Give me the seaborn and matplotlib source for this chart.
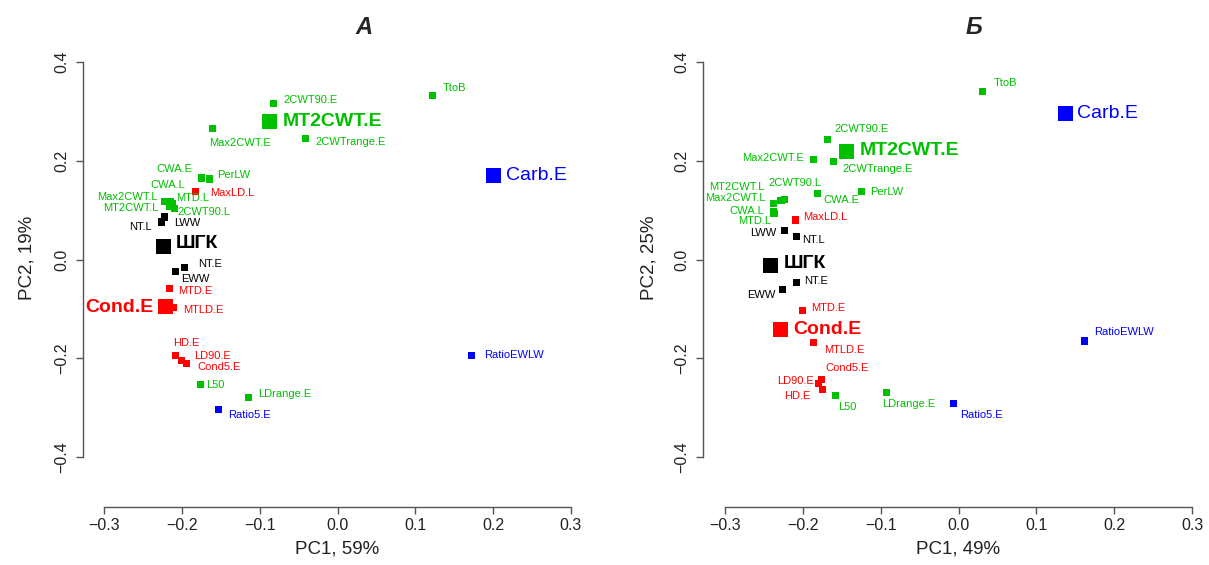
import matplotlib
matplotlib.use("Agg")
import matplotlib.pyplot as plt
import numpy as np
import pandas as pd
import seaborn as sns

# ---------------- data ----------------
variables = ["TtoB", "2CWT90.E", "MT2CWT.E", "Max2CWT.E", "2CWTrange.E", "Carb.E",
             "CWA.E", "PerLW", "MaxLD.L", "CWA.L", "Max2CWT.L", "MTD.L", "MT2CWT.L",
             "2CWT90.L", "LWW", "NT.L", "ШГК", "NT.E", "EWW", "MTD.E", "Cond.E",
             "MTLD.E", "HD.E", "LD90.E", "Cond5.E", "L50", "LDrange.E", "Ratio5.E",
             "RatioEWLW"]
groups = ["green", "green", "green", "green", "green", "blue",
          "green", "green", "red", "green", "green", "green", "green",
          "green", "black", "black", "black", "black", "black", "red", "red",
          "red", "red", "red", "red", "green", "green", "blue",
          "blue"]
emphasis = ["small", "small", "big", "small", "small", "big",
            "small", "small", "small", "small", "small", "small", "small",
            "small", "small", "small", "big", "small", "small", "small", "big",
            "small", "small", "small", "small", "small", "small", "small",
            "small"]

pc1_A = [0.122, -0.082, -0.087, -0.161, -0.041, 0.200,
         -0.175, -0.165, -0.183, -0.215, -0.222, -0.212, -0.216,
         -0.210, -0.222, -0.226, -0.224, -0.197, -0.208, -0.216, -0.221,
         -0.211, -0.208, -0.201, -0.194, -0.176, -0.114, -0.153,
         0.172]
pc2_A = [0.333, 0.316, 0.280, 0.265, 0.245, 0.171,
         0.165, 0.163, 0.137, 0.117, 0.118, 0.113, 0.108,
         0.104, 0.086, 0.076, 0.027, -0.016, -0.024, -0.059, -0.096,
         -0.098, -0.194, -0.204, -0.210, -0.253, -0.280, -0.304,
         -0.194]

pc1_B = [0.031, -0.168, -0.144, -0.186, -0.161, 0.138,
         -0.181, -0.125, -0.210, -0.238, -0.238, -0.237, -0.228,
         -0.224, -0.224, -0.208, -0.242, -0.208, -0.226, -0.201, -0.229,
         -0.186, -0.175, -0.180, -0.176, -0.158, -0.093, -0.006,
         0.162]
pc2_B = [0.341, 0.243, 0.218, 0.202, 0.198, 0.296,
         0.133, 0.137, 0.080, 0.098, 0.114, 0.094, 0.120,
         0.122, 0.059, 0.047, -0.012, -0.047, -0.061, -0.104, -0.141,
         -0.169, -0.263, -0.251, -0.243, -0.276, -0.269, -0.292,
         -0.165]

panel_titles = ["А", "Б"]
x_labels = ["PC1, 59%", "PC1, 49%"]
y_labels = ["PC2, 19%", "PC2, 25%"]
x_ticks = [-0.3, -0.2, -0.1, 0.0, 0.1, 0.2, 0.3]
y_ticks = [-0.4, -0.2, 0.0, 0.2, 0.4]

# ---------------- label placement (pixel offsets: dx, dy-down, align) ----------------
offsets_A = [(10, -7, "l"), (10, -3, "l"), (13, 0, "l"), (-3, 14, "l"), (10, 3, "l"), (13, 0, "l"),
             (-9, -9, "r"), (8, -4, "l"), (15, 1, "l"), (15, -17, "r"), (-7, -4, "r"), (4, -6, "l"),
             (-11, 2, "r"), (3, 4, "l"), (9, 6, "l"), (-10, 5, "r"), (13, -3, "l"), (14, -3, "l"),
             (6, 8, "l"), (9, 2, "l"), (-12, 1, "r"), (10, 2, "l"), (-2, -12, "l"), (13, -4, "l"),
             (11, 4, "l"), (6, 1, "l"), (9, -4, "l"), (10, 5, "l"), (13, 0, "l")]
offsets_B = [(11, -8, "l"), (7, -11, "l"), (13, -1, "l"), (-10, -2, "r"), (9, 7, "l"), (11, 0, "l"),
             (6, 6, "l"), (9, 0, "l"), (8, -3, "l"), (-9, 0, "r"), (-8, -5, "r"), (-3, 8, "r"),
             (-17, -13, "r"), (-16, -16, "l"), (-8, 3, "r"), (6, 4, "l"), (14, -2, "l"), (8, -2, "l"),
             (-7, 5, "r"), (9, -3, "l"), (13, 0, "l"), (10, 7, "l"), (-12, 7, "r"), (-5, -2, "r"),
             (4, -11, "l"), (3, 11, "l"), (-4, 12, "l"), (6, 11, "l"), (10, -9, "l")]

palette = {"green": "#00c000", "red": "#ff0000", "blue": "#0000ff", "black": "#000000"}
bold_big = {"MT2CWT.E", "Cond.E", "ШГК"}

sns.set_style("ticks")
plt.rcParams["font.family"] = ["Liberation Sans", "DejaVu Sans"]

W, H = 1209, 565
fig = plt.figure(figsize=(W / 100, H / 100), dpi=100)

axes_px = [(104, 62, 467, 395), (725, 62, 467, 395)]  # left, top, width, height
spine_out_left = [15, 16]
title_x = [364, 974]
ylabel_x = [27, 649]

datasets = [(pc1_A, pc2_A, offsets_A), (pc1_B, pc2_B, offsets_B)]


def fmt(v):
    s = f"{v:.1f}"
    return s.replace("-", "\u2212")


for i, (pc1, pc2, offs) in enumerate(datasets):
    l, t, w, h = axes_px[i]
    ax = fig.add_axes([l / W, 1 - (t + h) / H, w / W, h / H])
    df = pd.DataFrame({"var": variables, "pc1": pc1, "pc2": pc2,
                       "group": groups, "emph": emphasis})
    sns.scatterplot(data=df, x="pc1", y="pc2", hue="group", palette=palette,
                    size="emph", sizes={"small": 26, "big": 115}, marker="s",
                    linewidth=0, legend=False, ax=ax, clip_on=False, zorder=3)
    for j, row in df.iterrows():
        dx, dy, al = offs[j]
        big = row["emph"] == "big"
        ax.annotate(row["var"], (row["pc1"], row["pc2"]), xytext=(dx, -dy),
                    textcoords="offset pixels", ha="left" if al == "l" else "right",
                    va="center", color=palette[row["group"]],
                    fontsize=14 if big else 8,
                    fontweight="bold" if row["var"] in bold_big else "normal",
                    annotation_clip=False, zorder=4)
    ax.set_xlim(-0.3, 0.3)
    ax.set_ylim(-0.4, 0.4)
    ax.set_xticks(x_ticks)
    ax.set_yticks(y_ticks)
    ax.set_xticklabels([fmt(v) for v in x_ticks])
    ax.set_yticklabels([fmt(v) for v in y_ticks])
    for s in ["top", "right"]:
        ax.spines[s].set_visible(False)
    ax.spines["left"].set_position(("outward", spine_out_left[i]))
    ax.spines["bottom"].set_position(("outward", 36))
    for s in ["left", "bottom"]:
        ax.spines[s].set_color("#555555")
        ax.spines[s].set_linewidth(1.0)
    ax.tick_params(axis="both", direction="out", length=5, width=1.0,
                   bottom=True, left=True,
                   color="#555555", labelsize=11.5, labelcolor="#222222")
    ax.tick_params(axis="x", pad=3)
    ax.tick_params(axis="y", pad=5, labelrotation=90)
    for lab in ax.get_yticklabels():
        lab.set_va("center")
    ax.set_xlabel("")
    ax.set_ylabel("")
    ax.patch.set_alpha(0)

    fig.text(title_x[i] / W, 1 - 27 / H, panel_titles[i], fontsize=17,
             fontweight="bold", fontstyle="italic", ha="center", va="center")
    fig.text((l + w / 2) / W, 1 - 549 / H, x_labels[i], fontsize=13.5,
             ha="center", va="center", color="#222222")
    fig.text(ylabel_x[i] / W, 1 - 258 / H, y_labels[i], fontsize=13.5,
             rotation=90, ha="center", va="center", color="#222222")

fig.savefig("out.png", dpi=100, facecolor="white")
